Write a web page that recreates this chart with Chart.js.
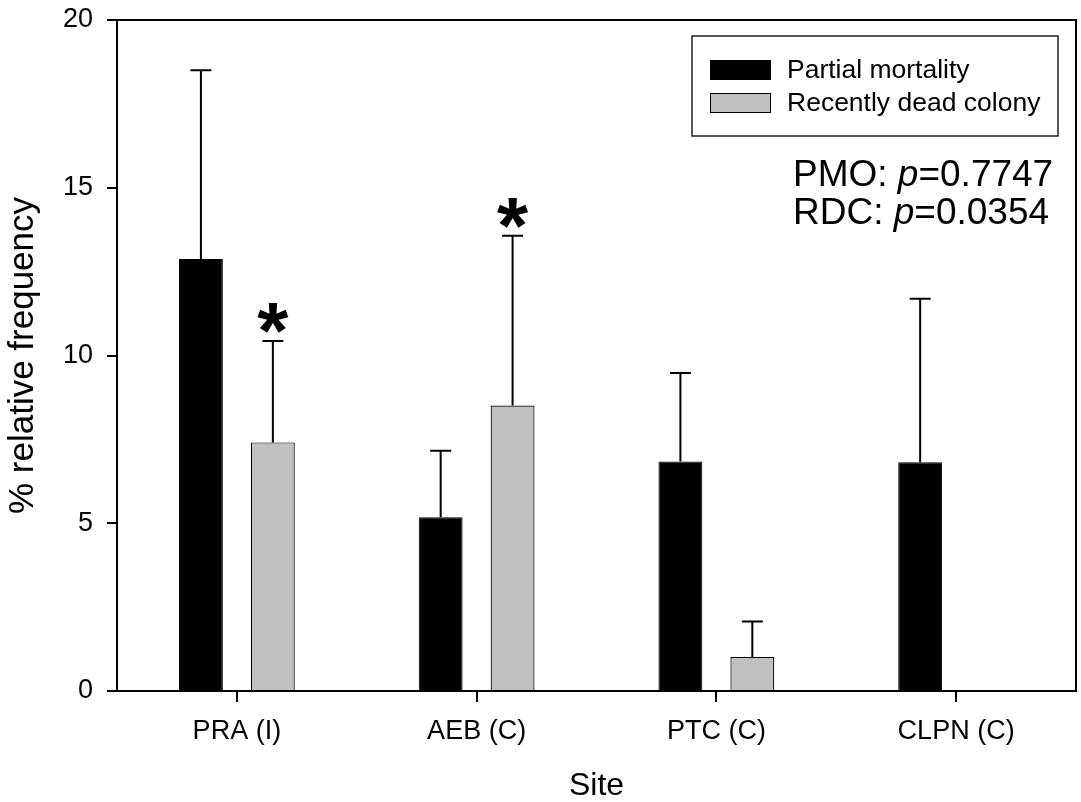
<!DOCTYPE html>
<html><head><meta charset="utf-8">
<script src="https://cdn.jsdelivr.net/npm/chart.js@4/dist/chart.umd.min.js"></script>
<style>html,body{margin:0;padding:0;background:#fff;overflow:hidden;}</style>
</head><body>
<canvas id="c" width="1081" height="802" style="display:block;width:1081px;height:802px"></canvas>
<script>
// ---- data ----
const categories = ['PRA (I)', 'AEB (C)', 'PTC (C)', 'CLPN (C)'];
const seriesNames = ['Partial mortality', 'Recently dead colony'];
const partialMortality = [12.88, 5.18, 6.84, 6.82];
const partialMortalityErr = [5.62, 1.98, 2.64, 4.87];
const recentlyDead = [7.41, 8.51, 1.01, 0];
const recentlyDeadErr = [3.02, 5.06, 1.06, 0];
const partialMortalitySig = [false, false, false, false];
const recentlyDeadSig = [true, true, false, false];
const yTickValues = [0, 5, 10, 15, 20];
const statLines = [['PMO: ', 'p', '=0.7747'], ['RDC: ', 'p', '=0.0354']];
const xTitle = 'Site';
const yTitle = '% relative frequency';

const FONT = '"Liberation Sans", Arial, Helvetica, sans-serif';
const errs = [partialMortalityErr, recentlyDeadErr];
const sigs = [partialMortalitySig, recentlyDeadSig];

const extras = {
  id: 'extras',
  afterDatasetsDraw(chart) {
    const ctx = chart.ctx, ys = chart.scales.y;
    ctx.save();
    chart.data.datasets.forEach((ds, di) => {
      const meta = chart.getDatasetMeta(di);
      meta.data.forEach((bar, i) => {
        const v = ds.data[i], e = errs[di][i];
        if (!e) return;
        const top = ys.getPixelForValue(v + e);
        ctx.strokeStyle = '#000'; ctx.lineWidth = 2; ctx.lineCap = 'butt';
        ctx.beginPath();
        ctx.moveTo(bar.x, bar.y); ctx.lineTo(bar.x, top);
        ctx.moveTo(bar.x - 10.5, top); ctx.lineTo(bar.x + 10.5, top);
        ctx.stroke();
        if (sigs[di][i]) {
          ctx.font = 'bold 80px ' + FONT;
          ctx.fillStyle = '#000';
          ctx.textAlign = 'center';
          ctx.textBaseline = 'alphabetic';
          const m = ctx.measureText('*');
          const asc = m.actualBoundingBoxAscent, desc = m.actualBoundingBoxDescent;
          const centerY = top - 23;
          const baseY = centerY + (asc - desc) / 2;
          ctx.fillText('*', bar.x, baseY);
        }
      });
    });
    ctx.restore();
  },
  afterDraw(chart) {
    const ctx = chart.ctx, ca = chart.chartArea;
    ctx.save();
    // top and right frame lines
    ctx.strokeStyle = '#000'; ctx.lineWidth = 2;
    ctx.beginPath();
    ctx.moveTo(ca.left - 1, ca.top); ctx.lineTo(ca.right, ca.top); ctx.lineTo(ca.right, ca.bottom + 1);
    ctx.stroke();
    // legend box
    const bx = ca.right - 384, by = ca.top + 16, bw = 366, bh = 100;
    ctx.lineWidth = 1.5; ctx.strokeStyle = '#222';
    ctx.strokeRect(bx, by, bw, bh);
    chart.data.datasets.forEach((ds, di) => {
      const cy = by + 34 + di * 33;
      ctx.fillStyle = ds.backgroundColor;
      ctx.fillRect(bx + 18, cy - 10, 61, 20);
      ctx.lineWidth = 1; ctx.strokeStyle = '#000';
      ctx.strokeRect(bx + 18.5, cy - 9.5, 60, 19);
      ctx.fillStyle = '#000';
      ctx.font = '26.5px ' + FONT;
      ctx.textAlign = 'left'; ctx.textBaseline = 'middle';
      ctx.fillText(ds.label, bx + 95, cy + 1);
    });
    // stats text
    ctx.textBaseline = 'alphabetic'; ctx.textAlign = 'left'; ctx.fillStyle = '#000';
    statLines.forEach((parts, li) => {
      let x = ca.right - 283;
      const y = ca.top + 166 + li * 37.5;
      parts.forEach((p, pi) => {
        ctx.font = (pi === 1 ? 'italic ' : '') + '37px ' + FONT;
        ctx.fillText(p, x, y);
        x += ctx.measureText(p).width;
      });
    });
    ctx.restore();
  }
};

new Chart(document.getElementById('c'), {
  type: 'bar',
  data: {
    labels: categories,
    datasets: [
      { label: seriesNames[0], data: partialMortality, backgroundColor: '#000000', borderColor: '#000000', borderWidth: 1,
        categoryPercentage: 0.6, barPercentage: 0.61 },
      { label: seriesNames[1], data: recentlyDead, backgroundColor: '#c0c0c0', borderColor: '#000000', borderWidth: 1.2,
        categoryPercentage: 0.6, barPercentage: 0.61 }
    ]
  },
  options: {
    responsive: false,
    animation: false,
    devicePixelRatio: 1,
    layout: { padding: { left: 0, right: 5, top: 20, bottom: 0 } },
    plugins: { legend: { display: false }, tooltip: { enabled: false } },
    scales: {
      x: {
        grid: { offset: false, drawOnChartArea: false, drawTicks: true, tickLength: 11, color: '#000', lineWidth: 2 },
        border: { display: true, color: '#000', width: 2 },
        ticks: { color: '#000', font: { family: FONT, size: 27 }, padding: 13 },
        title: { display: true, text: xTitle, color: '#000', font: { family: FONT, size: 32, lineHeight: 1 }, padding: { top: 0, bottom: 0 } },
        afterFit(s) { s.height = 111; s.paddingLeft = 0; s.paddingRight = 0; }
      },
      y: {
        min: 0, max: 20,
        afterBuildTicks(s) { s.ticks = yTickValues.map(v => ({ value: v })); },
        grid: { drawOnChartArea: false, drawTicks: true, tickLength: 10, color: '#000', lineWidth: 2 },
        border: { display: true, color: '#000', width: 2 },
        ticks: { color: '#000', font: { family: FONT, size: 27 }, padding: 14 },
        title: { display: true, text: yTitle, color: '#000', font: { family: FONT, size: 35, lineHeight: 1 }, padding: { top: 6, bottom: 0 } },
        afterFit(s) { s.width = 117; s.paddingTop = 0; s.paddingBottom = 0; }
      }
    }
  },
  plugins: [extras]
});
</script>
</body></html>
